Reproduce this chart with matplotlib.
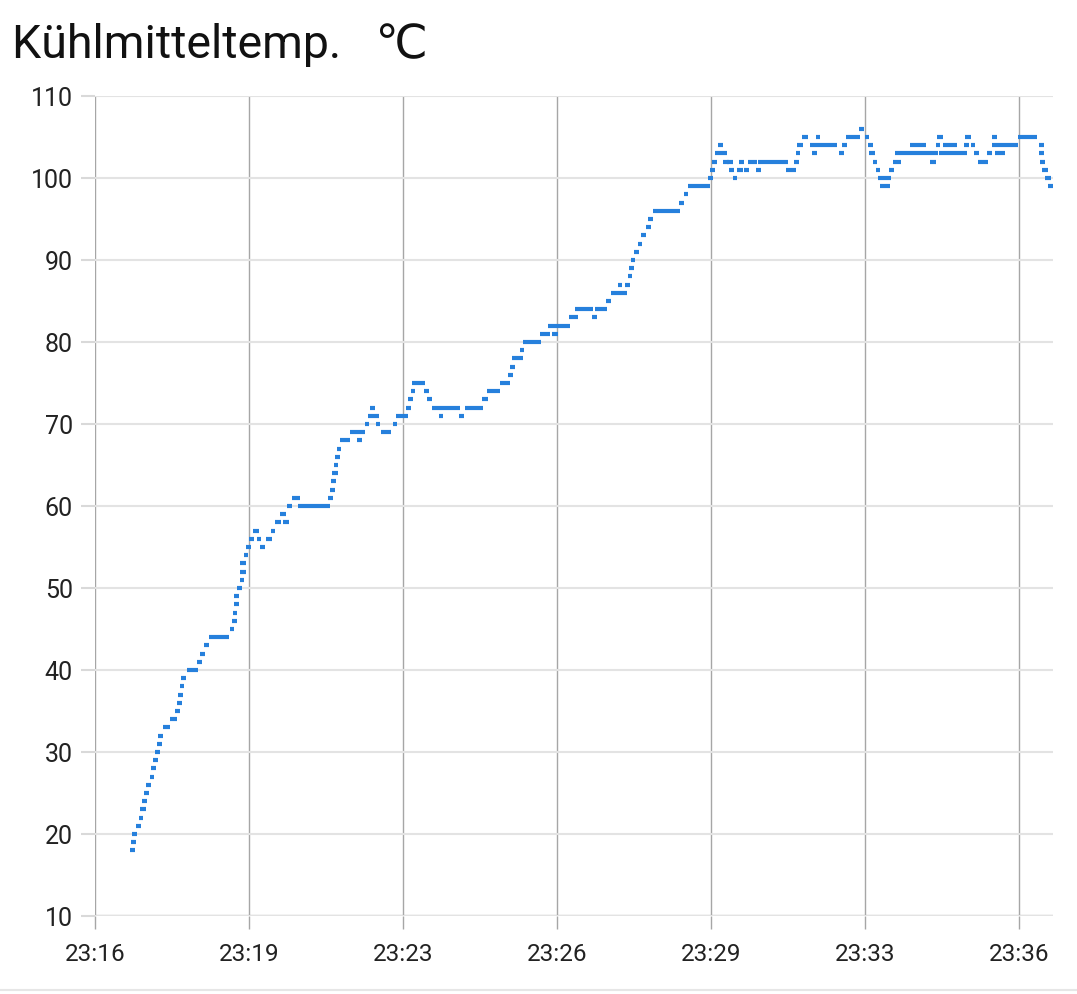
import matplotlib
matplotlib.use("Agg")
import matplotlib.pyplot as plt
from matplotlib.ticker import FixedLocator, FuncFormatter
from matplotlib.lines import Line2D

plt.rcParams['font.family'] = ['Roboto', 'DejaVu Sans']

# readings: start / end time (seconds after 23:00:00) and coolant temperature
t_start = [1035, 1036, 1038, 1043, 1046, 1048, 1051, 1053, 1056, 1061, 1062, 1064, 1067, 1070, 1071,
           1077, 1086, 1093, 1095, 1097, 1099, 1101, 1108, 1121, 1125, 1130, 1137, 1163, 1166, 1167,
           1169, 1169, 1172, 1176, 1177, 1177, 1181, 1184, 1188, 1193, 1198, 1202, 1210, 1216, 1222,
           1228, 1232, 1237, 1243, 1251, 1290, 1292, 1293, 1295, 1297, 1298, 1301, 1305, 1318, 1327,
           1337, 1341, 1344, 1348, 1351, 1358, 1373, 1377, 1390, 1393, 1396, 1398, 1413, 1417, 1423,
           1432, 1458, 1466, 1488, 1494, 1511, 1521, 1524, 1526, 1536, 1541, 1562, 1578, 1572, 1600,
           1607, 1629, 1633, 1647, 1654, 1662, 1672, 1675, 1677, 1679, 1683, 1688, 1692, 1698, 1701,
           1707, 1741, 1747, 1752, 1778, 1781, 1784, 1787, 1791, 1797, 1798, 1803, 1805, 1810, 1816,
           1818, 1825, 1830, 1840, 1842, 1879, 1889, 1891, 1893, 1899, 1909, 1912, 1917, 1947, 1951,
           1956, 1973, 1980, 1984, 1986, 1990, 1994, 1997, 1999, 2011, 2016, 2019, 2038, 2064, 2061,
           2071, 2073, 2076, 2080, 2107, 2109, 2116, 2120, 2125, 2137, 2143, 2144, 2147, 2177, 2204,
           2204, 2205, 2208, 2212, 2216]
t_end = [1041, 1043, 1044, 1049, 1052, 1055, 1057, 1060, 1062, 1066, 1068, 1071, 1073, 1076, 1078,
         1086, 1095, 1099, 1102, 1103, 1105, 1107, 1123, 1127, 1132, 1137, 1162, 1169, 1173, 1173,
         1175, 1175, 1179, 1182, 1184, 1184, 1187, 1191, 1195, 1201, 1204, 1209, 1217, 1222, 1229,
         1236, 1239, 1243, 1253, 1292, 1296, 1298, 1300, 1302, 1303, 1305, 1307, 1318, 1337, 1333,
         1343, 1348, 1350, 1355, 1357, 1371, 1379, 1393, 1396, 1399, 1402, 1414, 1420, 1423, 1459,
         1438, 1465, 1489, 1495, 1511, 1524, 1528, 1530, 1541, 1542, 1564, 1575, 1585, 1601, 1611,
         1631, 1635, 1648, 1653, 1674, 1668, 1678, 1681, 1683, 1685, 1690, 1694, 1698, 1705, 1708,
         1742, 1748, 1753, 1781, 1785, 1787, 1790, 1797, 1798, 1803, 1805, 1810, 1812, 1816, 1823,
         1825, 1831, 1841, 1846, 1881, 1892, 1895, 1897, 1900, 1907, 1944, 1919, 1923, 1953, 1957,
         1974, 1979, 1986, 1990, 1993, 1996, 2000, 2014, 2012, 2018, 2027, 2061, 2059, 2071, 2074,
         2077, 2080, 2111, 2098, 2114, 2116, 2122, 2127, 2138, 2144, 2177, 2150, 2160, 2202, 2210,
         2210, 2212, 2215, 2219, 2222]
temp = [18, 19, 20, 21, 22, 23, 24, 25, 26, 27, 28, 29, 30, 31, 32,
        33, 34, 35, 36, 37, 38, 39, 40, 41, 42, 43, 44, 45, 46, 47,
        48, 49, 50, 51, 52, 53, 54, 55, 56, 57, 56, 55, 56, 57, 58,
        59, 58, 60, 61, 60, 61, 62, 63, 64, 65, 66, 67, 68, 69, 68,
        70, 71, 72, 71, 70, 69, 70, 71, 72, 73, 74, 75, 74, 73, 72,
        71, 71, 72, 73, 74, 75, 76, 77, 78, 79, 80, 81, 81, 82, 83,
        84, 83, 84, 85, 86, 87, 87, 88, 89, 90, 91, 92, 93, 94, 95,
        96, 97, 98, 99, 100, 101, 102, 103, 104, 103, 102, 102, 101, 100, 101,
        102, 101, 102, 101, 102, 101, 102, 103, 104, 105, 104, 103, 105, 103, 104,
        105, 106, 105, 104, 103, 102, 101, 100, 99, 101, 102, 103, 104, 102, 103,
        104, 105, 103, 104, 104, 105, 104, 103, 102, 103, 104, 105, 103, 105, 104,
        103, 102, 101, 100, 99]

tick_secs = [990, 1188, 1386, 1584, 1782, 1980, 2178]
x_range = [990, 2222]
y_ticks = [10, 20, 30, 40, 50, 60, 70, 80, 90, 100, 110]

fig = plt.figure(figsize=(10.77, 9.95), dpi=100)
ax = fig.add_axes([95 / 1077, 1 - 917 / 995, 958 / 1077, 820 / 995])

ax.hlines(temp, t_start, t_end, colors='#2680dc', linewidth=3.0, zorder=3)

ax.set_xlim(x_range)
ax.set_ylim(y_ticks[0], y_ticks[-1])
ax.yaxis.set_major_locator(FixedLocator(y_ticks))
ax.xaxis.set_major_locator(FixedLocator(tick_secs))
ax.xaxis.set_major_formatter(FuncFormatter(lambda s, p: '23:%02d' % (int(s) // 60)))

ax.grid(axis='y', color='#e3e3e3', linewidth=1.5, zorder=0)
ax.grid(axis='x', color='#a6a6a6', linewidth=1.0, zorder=1)
for sp in ax.spines.values():
    sp.set_visible(False)
ax.axhline(10, color='#d2d2d2', linewidth=2.5, zorder=1)

ax.tick_params(axis='y', length=10, width=1.5, color='#d9d9d9', pad=6, labelsize=18, labelcolor='#222222')
ax.tick_params(axis='x', length=9, width=1.0, color='#a6a6a6', pad=10, labelsize=17.5, labelcolor='#222222')

fig.text(12 / 1077, 1 - 58 / 995, 'Kühlmitteltemp.   ℃', fontsize=33.5, color='#111111',
         ha='left', va='baseline')
fig.add_artist(Line2D([0, 1], [0.004, 0.004], color='#e6e6e6', linewidth=1.5))

fig.savefig('out.png', dpi=100)
